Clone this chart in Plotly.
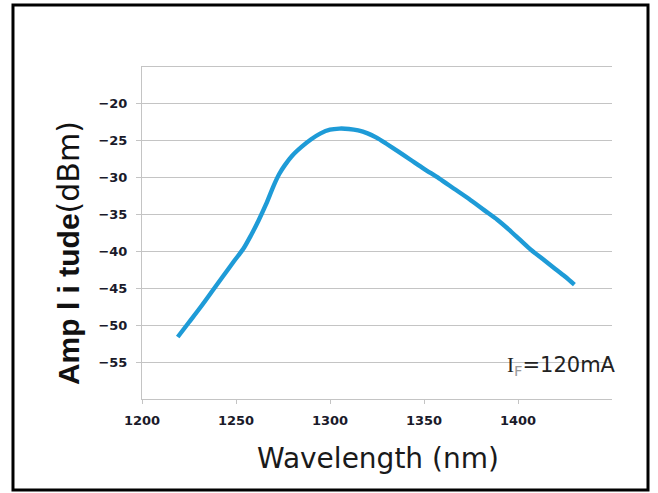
import plotly.graph_objects as go

# Data
wavelength_nm = [1219, 1225, 1231, 1237, 1243, 1249, 1254, 1258, 1262, 1266, 1270, 1273,
                 1276, 1280, 1285, 1290, 1295, 1300, 1305, 1310, 1315, 1320, 1325, 1330,
                 1336, 1343, 1350, 1358, 1366, 1374, 1382, 1389, 1395, 1401, 1407, 1413,
                 1419, 1425, 1430]
amplitude_dbm = [-51.6, -49.6, -47.6, -45.5, -43.4, -41.3, -39.6, -37.8, -35.8, -33.6, -31.1, -29.5,
                 -28.3, -27.0, -25.8, -24.8, -24.0, -23.5, -23.35, -23.4, -23.6, -24.0, -24.6, -25.4,
                 -26.4, -27.6, -28.8, -30.1, -31.5, -32.9, -34.4, -35.7, -37.0, -38.4, -39.8, -41.0,
                 -42.2, -43.4, -44.5]

x_tickvals = [1200, 1250, 1300, 1350, 1400]
x_ticktext = ["1200", "1250", "1300", "1350", "1400"]
y_tickvals = [-55, -50, -45, -40, -35, -30, -25, -20]
y_ticktext = ["\u221255", "\u221250", "\u221245", "\u221240", "\u221235", "\u221230", "\u221225", "\u221220"]

fig = go.Figure()
fig.add_trace(go.Scatter(
    x=wavelength_nm, y=amplitude_dbm, mode="lines",
    line=dict(color="#1e9bd7", width=4.4, shape="spline", smoothing=0.8),
    showlegend=False, hoverinfo="skip",
))

grid_col = "#c4c4c4"
tick_font = dict(family="DejaVu Sans", size=13, color="#1a1a2a", weight="bold")
fig.update_layout(
    width=658, height=493,
    margin=dict(l=142, r=46, t=67, b=94),
    paper_bgcolor="white", plot_bgcolor="white",
    font=dict(family="DejaVu Sans", color="#1a1a1a"),
    xaxis=dict(
        range=[1200, 1450], tickmode="array", tickvals=x_tickvals, ticktext=x_ticktext,
        showgrid=False, zeroline=False, showline=True, linecolor=grid_col, linewidth=1,
        mirror=True,
        ticks="outside", ticklen=4, tickcolor=grid_col,
        tickfont=tick_font, ticklabelstandoff=5,
    ),
    yaxis=dict(
        range=[-60, -15], tickmode="array", tickvals=y_tickvals, ticktext=y_ticktext,
        showgrid=True, gridcolor=grid_col, gridwidth=1, zeroline=False,
        showline=True, linecolor=grid_col, linewidth=1,
        ticks="outside", ticklen=5, tickcolor=grid_col,
        tickfont=tick_font, ticklabelstandoff=6,
    ),
    annotations=[
        dict(text="Wavelength (nm)", xref="paper", yref="paper", x=0.502, y=-0.18,
             xanchor="center", yanchor="middle", showarrow=False,
             font=dict(family="DejaVu Sans", size=28, color="#1a1a1a")),
        dict(text="<b>Amp l i tude</b><span style=\"font-family:DejaVu Sans;font-weight:normal\">(dBm)</span>",
             xref="paper", yref="paper", x=-0.155, y=0.44, textangle=-90,
             xanchor="center", yanchor="middle", showarrow=False,
             font=dict(family="Liberation Sans", size=30, color="#111111")),
        dict(text="<span style=\"font-family:Liberation Serif\">I</span><sub><span style=\"color:#999999\">F</span></sub>=120mA",
             xref="paper", yref="paper", x=1.012, y=0.10,
             xanchor="right", yanchor="middle", showarrow=False,
             font=dict(family="DejaVu Sans", size=21, color="#222222")),
    ],
    shapes=[
        dict(type="rect", xref="paper", yref="paper",
             x0=-0.2745, x1=1.0766, y0=-0.2741, y1=1.1867,
             line=dict(color="black", width=3), fillcolor="rgba(0,0,0,0)"),
    ],
)

fig.write_html("out.html", config={"displayModeBar": False, "staticPlot": True},
               post_script="document.body.style.margin='0';document.body.style.overflow='hidden';")
